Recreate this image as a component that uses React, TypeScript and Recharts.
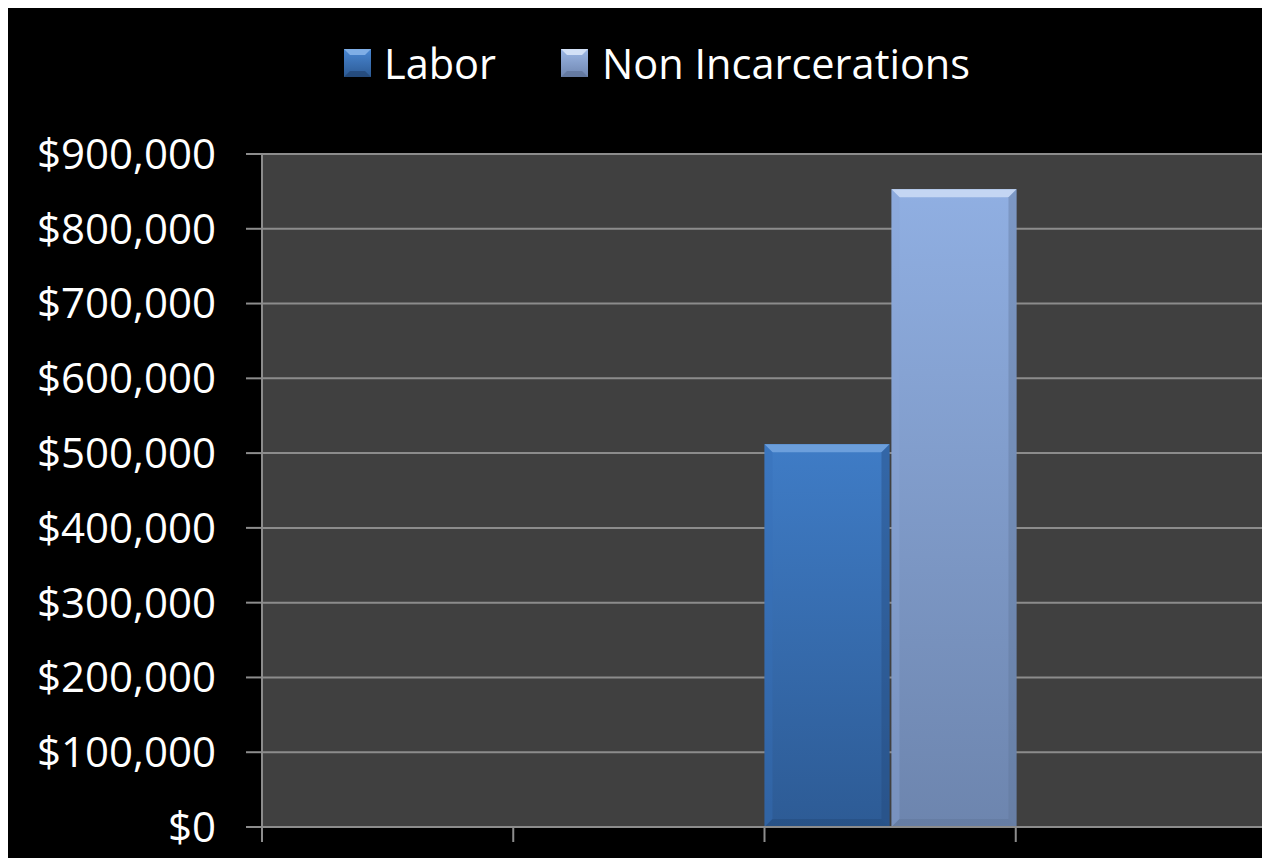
import React from 'react';
import { BarChart, Bar, XAxis, YAxis, CartesianGrid } from 'recharts';

const categories = ['Q1', 'Q2', 'Q3', 'Q4'];
const laborValues: (number | null)[] = [null, null, 512000, null];
const nonIncarcerationValues: (number | null)[] = [null, null, 853000, null];
const yTicks = [0, 100000, 200000, 300000, 400000, 500000, 600000, 700000, 800000, 900000];
const boundaryTicks = [0, 1, 2, 3, 4];

const seriesNames = ['Labor', 'Non Incarcerations'];

const data = categories.map((c, i) => ({
  name: c,
  pos: i + 0.5,
  labor: laborValues[i],
  nonInc: nonIncarcerationValues[i],
}));

const FONT = '"Open Sans", "Noto Sans", sans-serif';

const makeShape = (id: string, top: string, edge: string, dark: string) => (props: any) => {
  const { x, y, width, height } = props;
  if (!height || height <= 0) return null;
  const b = Math.min(8, width / 6, height / 4);
  return (
    <g>
      <rect x={x} y={y} width={width} height={height} fill={`url(#${id})`} />
      <polygon points={`${x},${y} ${x + width},${y} ${x + width - b},${y + b} ${x + b},${y + b}`} fill={top} />
      <polygon points={`${x},${y} ${x + b},${y + b} ${x + b},${y + height - b} ${x},${y + height}`} fill={edge} opacity={0.4} />
      <polygon points={`${x + width},${y} ${x + width - b},${y + b} ${x + width - b},${y + height - b} ${x + width},${y + height}`} fill={dark} opacity={0.4} />
      <polygon points={`${x},${y + height} ${x + b},${y + height - b} ${x + width - b},${y + height - b} ${x + width},${y + height}`} fill={dark} opacity={0.5} />
    </g>
  );
};

const LaborShape = makeShape('gLabor', '#6C9FDC', '#3670B8', '#24497A');
const NonShape = makeShape('gNon', '#C4D6F3', '#8AA6D6', '#5F7599');

const legendSquares = [
  { name: seriesNames[0], grad: 'gLegLabor', hi: '#7FAEE6', lo: '#1F3F6A', c1: '#4A88D4', c2: '#2C5A94' },
  { name: seriesNames[1], grad: 'gLegNon', hi: '#D2E0F6', lo: '#5A6E92', c1: '#9DB8E6', c2: '#6F86B0' },
];

const LegendBlock = () => (
  <div
    style={{
      position: 'absolute',
      left: 336,
      top: 30,
      display: 'flex',
      alignItems: 'center',
      fontFamily: FONT,
      fontSize: 41.5,
      lineHeight: '50px',
      color: '#ffffff',
      whiteSpace: 'nowrap',
    }}
  >
    {legendSquares.map((s, i) => (
      <div key={s.name} style={{ display: 'flex', alignItems: 'center', marginLeft: i === 0 ? 0 : 65 }}>
        <svg width={27} height={28} style={{ marginRight: i === 0 ? 13 : 14 }}>
          <defs>
            <linearGradient id={s.grad} x1="0" y1="0" x2="0" y2="1">
              <stop offset="0%" stopColor={s.c1} />
              <stop offset="100%" stopColor={s.c2} />
            </linearGradient>
          </defs>
          <rect x={0} y={0} width={27} height={28} fill={`url(#${s.grad})`} />
          <polygon points="0,0 27,0 21,6 6,6" fill={s.hi} />
          <polygon points="0,28 27,28 21,22 6,22" fill={s.lo} opacity={0.6} />
        </svg>
        <span>{s.name}</span>
      </div>
    ))}
  </div>
);

const yFmt = (v: number) => '$' + v.toLocaleString('en-US');
const emptyFmt = () => '';

export default function App() {
  return (
    <div style={{ width: 1262, height: 850, background: '#000000', position: 'relative', overflow: 'hidden' }}>
      <style>{'html,body{overflow:hidden;}'}</style>
      <BarChart
        width={1262}
        height={850}
        data={data}
        margin={{ top: 146, right: 3, bottom: 0, left: 0 }}
        barCategoryGap={0}
        barGap={2}
      >
        <defs>
          <linearGradient id="gLabor" x1="0" y1="0" x2="0" y2="1">
            <stop offset="0%" stopColor="#3F7CC6" />
            <stop offset="100%" stopColor="#2D5B95" />
          </linearGradient>
          <linearGradient id="gNon" x1="0" y1="0" x2="0" y2="1">
            <stop offset="0%" stopColor="#90AFE2" />
            <stop offset="100%" stopColor="#6D85AE" />
          </linearGradient>
        </defs>
        <CartesianGrid vertical={false} stroke="#8C8C8C" strokeWidth={2} fill="#404040" />
        <XAxis
          xAxisId="edge"
          type="number"
          dataKey="pos"
          domain={[0, 4]}
          ticks={boundaryTicks}
          tickFormatter={emptyFmt}
          tickSize={15}
          height={31}
          stroke="#8C8C8C"
          strokeWidth={2}
          interval={0}
          allowDataOverflow
        />
        <XAxis xAxisId="cat" dataKey="name" hide height={0} />
        <YAxis
          domain={[0, 900000]}
          ticks={yTicks}
          tickFormatter={yFmt}
          width={254}
          tickSize={16}
          tickMargin={30}
          stroke="#8C8C8C"
          strokeWidth={2}
          tick={{ fill: '#ffffff', fontSize: 42, fontFamily: FONT }}
          interval={0}
        />
        <Bar xAxisId="cat" dataKey="labor" name={seriesNames[0]} shape={LaborShape} isAnimationActive={false} />
        <Bar xAxisId="cat" dataKey="nonInc" name={seriesNames[1]} shape={NonShape} isAnimationActive={false} />
      </BarChart>
      <LegendBlock />
    </div>
  );
}
